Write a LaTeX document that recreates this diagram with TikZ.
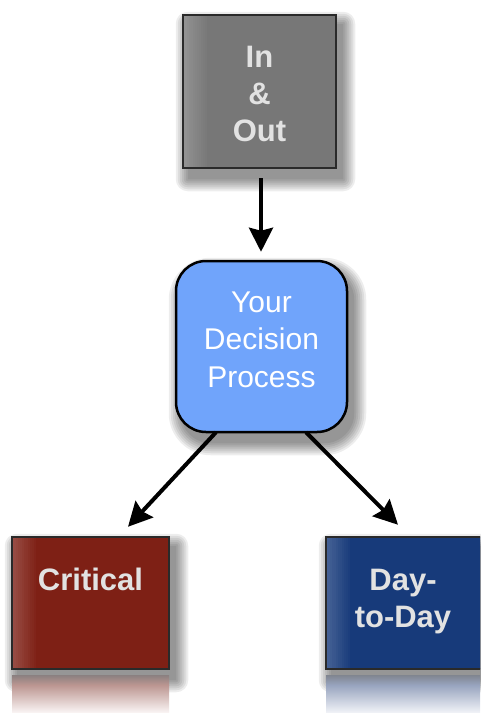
\documentclass[tikz,border=0pt]{standalone}
\usepackage{fontspec}
\setmainfont{Liberation Sans}
\usetikzlibrary{arrows.meta,calc,backgrounds}
\definecolor{graybox}{HTML}{777777}
\definecolor{decblue}{HTML}{70A4FB}
\definecolor{critred}{HTML}{7E2015}
\definecolor{dayblue}{HTML}{173A7A}
\definecolor{boxedge}{HTML}{2A2A2A}
\definecolor{lbltext}{HTML}{E2E2E2}
\definecolor{rrefA}{HTML}{8A8080}
\definecolor{rrefB}{HTML}{BC9691}
\definecolor{rrefC}{HTML}{FBF6F6}
\definecolor{brefA}{HTML}{80858F}
\definecolor{brefB}{HTML}{98A4BF}
\definecolor{brefC}{HTML}{F2F4F8}
\begin{document}
\begin{tikzpicture}[x=1pt,y=-1pt,
  box/.style={draw=boxedge, line width=2.5pt, inner sep=0pt, fill=#1,
    path picture={\foreach \i in {0,...,11}{\pgfmathtruncatemacro\m{80+\i*20/12}
      \fill[#1!\m!white] ([xshift={\i*2pt}]path picture bounding box.north west)
        rectangle ([xshift={\i*2pt+2.3pt}]path picture bounding box.south west);}}},
  lbl/.style={font=\bfseries\fontsize{31}{37}\selectfont, text=lbltext, align=center, inner sep=0pt, anchor=north},
  declbl/.style={font=\fontsize{30}{37.5}\selectfont, text=white, align=center, inner sep=0pt, anchor=north},
  conn/.style={line width=4pt, -{Stealth[length=24pt,width=24pt,inset=3pt]}},
  shadowlayer/.style={fill=black, opacity=0.07},
]
\clip (0,0) rectangle (480,713);
\useasboundingbox (0,0) rectangle (480,713);

% reflections
\shade[top color=rrefA, bottom color=rrefB] (12,675) rectangle (169,685);
\shade[top color=rrefB, bottom color=rrefC] (12,685) rectangle (169,713);
\shade[top color=brefA, bottom color=brefB] (326,675) rectangle (483,685);
\shade[top color=brefB, bottom color=brefC] (326,685) rectangle (483,713);

% boxes
\node[box=graybox, minimum width=153pt, minimum height=153pt] (io) at (259.5,91.5) {};
\node[lbl] (iot) at (259.5,46) {In\\\&\\Out};

\node[draw=black, line width=2.5pt, fill=decblue, rounded corners=30pt,
  minimum width=171pt, minimum height=171pt, inner sep=0pt] (dec) at (261.5,346.5) {};
\node[declbl] (dect) at (261.5,291.5) {Your\\Decision\\Process};

\node[box=critred, minimum width=157pt, minimum height=132pt] (crit) at (90.5,603) {};
\node[lbl] (critt) at (90.5,568) {Critical};

\node[box=dayblue, minimum width=157pt, minimum height=132pt] (day) at (404.5,603) {};
\node[lbl] (dayt) at (403,569) {Day-\\to-Day};

% soft shadows
\begin{scope}[on background layer]
  \fill[white] (0,0) rectangle (480,713);
  \foreach \r in {12,10,...,0}{
    \foreach \b in {io,crit,day}{
      \fill[shadowlayer, rounded corners={\r*1pt+0.01pt}]
        ($(\b.south west)+(6-\r,10+\r)$) rectangle ($(\b.north east)+(6+\r,10-\r)$);
    }
    \fill[shadowlayer, rounded corners={\r*1pt+30pt}]
      ($(dec.south west)+(6-\r,10+\r)$) rectangle ($(dec.north east)+(6+\r,10-\r)$);
  }
\end{scope}

% connectors
\draw[conn] ($(io.south)+(1.5,9)$) -- ($(dec.north)+(-0.5,-8)$);
\draw[conn] ($(dec.south)+(-45.5,-1)$) -- ($(crit.north)+(37.5,-9)$);
\draw[conn] ($(dec.south)+(44.5,-1)$) -- ($(day.north)+(-6.5,-11)$);
\end{tikzpicture}
\end{document}
